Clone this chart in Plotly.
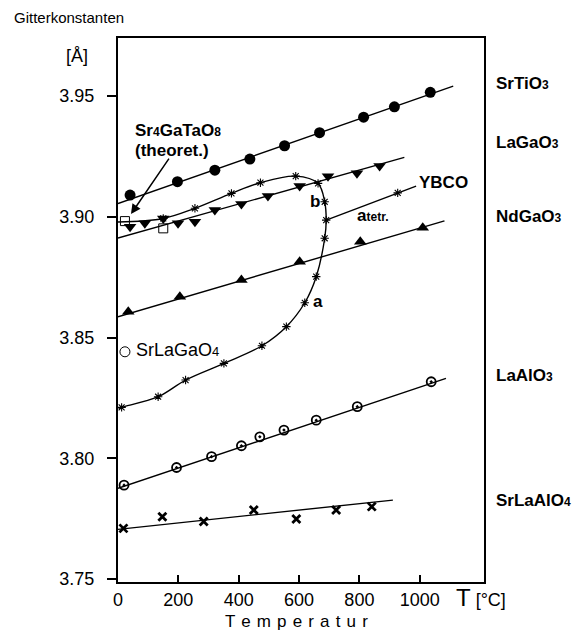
import plotly.graph_objects as go

# ---------------- data ----------------
srtio3_T = [40, 197, 321, 437, 552, 668, 814, 916, 1035]
srtio3_a = [3.9090, 3.9145, 3.9193, 3.9239, 3.9294, 3.9348, 3.9412, 3.9455, 3.9515]
srtio3_fit_T = [0, 1111]
srtio3_fit_a = [3.9055, 3.9541]

lagao3_T = [40, 89, 150, 199, 255, 321, 409, 497, 602, 696, 792, 867]
lagao3_a = [3.8959, 3.8973, 3.8993, 3.8973, 3.8979, 3.9028, 3.9053, 3.9086, 3.9127, 3.9168, 3.9180, 3.9210]
lagao3_fit_T = [0, 949]
lagao3_fit_a = [3.8912, 3.9246]

ndgao3_T = [34, 205, 409, 602, 803, 1010]
ndgao3_a = [3.8607, 3.8669, 3.8738, 3.8814, 3.8897, 3.8954]
ndgao3_fit_T = [0, 1082]
ndgao3_fit_a = [3.8586, 3.8983]

laalo3_T = [20, 194, 310, 409, 470, 550, 657, 793, 1038]
laalo3_a = [3.7889, 3.7962, 3.8007, 3.8052, 3.8089, 3.8117, 3.8158, 3.8214, 3.8317]
laalo3_fit_T = [0, 1087]
laalo3_fit_a = [3.7876, 3.8331]

srlaalo4_T = [18, 147, 284, 450, 591, 723, 841]
srlaalo4_a = [3.7710, 3.7758, 3.7738, 3.7786, 3.7749, 3.7786, 3.7800]
srlaalo4_fit_T = [0, 911]
srlaalo4_fit_a = [3.7706, 3.7827]

ybco_T = [12, 133, 224, 351, 477, 558, 619, 657, 685, 690, 685, 663, 589, 472, 376, 255, 150]
ybco_a = [3.8211, 3.8255, 3.8324, 3.8393, 3.8466, 3.8545, 3.8644, 3.8752, 3.8911, 3.8986,
          3.9062, 3.9138, 3.9168, 3.9141, 3.9097, 3.9035, 3.8993]
ybco_curve_T = [2, 12, 133, 224, 351, 477, 558, 619, 657, 685, 690, 685, 663, 589, 472, 376, 255, 150, 0]
ybco_curve_a = [3.8206, 3.8211, 3.8255, 3.8324, 3.8393, 3.8466, 3.8545, 3.8644, 3.8752, 3.8911, 3.8986,
                3.9062, 3.9138, 3.9168, 3.9141, 3.9097, 3.9035, 3.8993, 3.8978]
ybco_tetr_T = [690, 927, 988]
ybco_tetr_a = [3.8986, 3.9099, 3.9127]

srlagao4_T = [23]
srlagao4_a = [3.8441]
sr4gatao8_T = [23, 150]
sr4gatao8_a = [3.8982, 3.8952]

x_ticks = [0, 200, 400, 600, 800, 1000]
y_ticks = [3.75, 3.80, 3.85, 3.90, 3.95]
y_tick_text = ["3.75", "3.80", "3.85", "3.90", "3.95"]

# ---------------- figure ----------------
FONT = "Liberation Sans, Arial, sans-serif"
LW = 1.4
fig = go.Figure()

def fit(T, a):
    fig.add_trace(go.Scatter(x=T, y=a, mode="lines", line=dict(color="black", width=LW),
                             showlegend=False, hoverinfo="skip"))

def pts(T, a, symbol, size, lw=1.2):
    fig.add_trace(go.Scatter(x=T, y=a, mode="markers", showlegend=False,
                             marker=dict(symbol=symbol, size=size, color="black",
                                         line=dict(color="black", width=lw))))

fit(srtio3_fit_T, srtio3_fit_a)
fit(lagao3_fit_T, lagao3_fit_a)
fit(ndgao3_fit_T, ndgao3_fit_a)
fit(laalo3_fit_T, laalo3_fit_a)
fit(srlaalo4_fit_T, srlaalo4_fit_a)
fig.add_trace(go.Scatter(x=ybco_curve_T, y=ybco_curve_a, mode="lines",
                         line=dict(color="black", width=LW, shape="spline", smoothing=1.0),
                         showlegend=False, hoverinfo="skip"))
fit(ybco_tetr_T, ybco_tetr_a)

pts(srtio3_T, srtio3_a, "circle", 11, 0)
pts(lagao3_T, lagao3_a, "triangle-down", 11, 0)
pts(ndgao3_T, ndgao3_a, "triangle-up", 11, 0)
pts(laalo3_T, laalo3_a, "circle-open-dot", 9, 1.8)
pts(srlaalo4_T, srlaalo4_a, "x-thin-open", 8, 2.8)
pts(ybco_T, ybco_a, "asterisk-open", 7, 1.1)
pts(ybco_tetr_T[1:2], ybco_tetr_a[1:2], "asterisk-open", 7, 1.1)
pts(srlagao4_T, srlagao4_a, "circle-open", 10, 1.0)
pts(sr4gatao8_T, sr4gatao8_a, "square-open", 9, 1.0)

def small(s, px=12):
    return f"<span style='font-size:{px}px'>{s}</span>"

ann = []
# right side labels (paper coordinates)
right_labels = [("SrTiO" + small("3"), 0.917), ("LaGaO" + small("3"), 0.807),
                ("NdGaO" + small("3"), 0.671), ("LaAlO" + small("3"), 0.3805),
                ("SrLaAlO" + small("4"), 0.1507)]
for txt, yy in right_labels:
    ann.append(dict(x=1.027, y=yy, xref="paper", yref="paper", text=f"<b>{txt}</b>",
                    showarrow=False, xanchor="left", yanchor="middle",
                    font=dict(family=FONT, size=17, color="black")))

# in-plot labels
def dlab(x, y, txt, size=17, xanchor="left", bold=True):
    t = f"<b>{txt}</b>" if bold else txt
    ann.append(dict(x=x, y=y, xref="x", yref="y", text=t, showarrow=False,
                    xanchor=xanchor, yanchor="middle",
                    font=dict(family=FONT, size=size, color="black")))

dlab(50, 3.9359, "Sr" + small("4") + "GaTaO" + small("8"))
dlab(50, 3.9276, "(theoret.)")
dlab(52, 3.8448, "SrLaGaO" + small("4", 13), bold=False, size=18)
dlab(652, 3.9065, "b", xanchor="center")
dlab(663, 3.8648, "a", xanchor="center")
dlab(784, 3.9007, "a" + small("tetr.", 12))
dlab(992, 3.9140, "YBCO")

# arrow to Sr4GaTaO8 point
ann.append(dict(x=43, y=3.9011, xref="x", yref="y", ax=39, ay=-57, axref="pixel", ayref="pixel",
                text="", showarrow=True, arrowhead=2, arrowsize=1.3, arrowwidth=1.5,
                arrowcolor="black"))

# titles
ann.append(dict(x=-0.2896, y=1.0368, xref="paper", yref="paper", text="Gitterkonstanten",
                showarrow=False, xanchor="left", yanchor="middle",
                font=dict(family=FONT, size=15, color="black")))
ann.append(dict(x=-0.112, y=0.966, xref="paper", yref="paper", text="[Å]",
                showarrow=False, xanchor="center", yanchor="middle",
                font=dict(family=FONT, size=18, color="black")))
ann.append(dict(x=0.918, y=-0.0294, xref="paper", yref="paper",
                text="<span style='font-size:24px'>T</span> [°C]",
                showarrow=False, xanchor="left", yanchor="middle",
                font=dict(family=FONT, size=18, color="black")))
gap = " \u200a"
ann.append(dict(x=0.489, y=-0.0735, xref="paper", yref="paper",
                text=gap.join("Temperatur"),
                showarrow=False, xanchor="center", yanchor="middle",
                font=dict(family=FONT, size=17, color="black")))

fig.update_layout(
    width=581, height=630,
    margin=dict(l=118, r=97, t=38, b=48),
    paper_bgcolor="white", plot_bgcolor="white",
    showlegend=False,
    annotations=ann,
    font=dict(family=FONT, size=17, color="black"),
)
fig.update_xaxes(range=[0, 1213], tickvals=x_ticks, ticks="inside", ticklen=7, tickwidth=1.5,
                 tickcolor="black", showline=True, linecolor="black", linewidth=2, mirror=True,
                 showgrid=False, zeroline=False, tickfont=dict(family=FONT, size=18, color="black"))
fig.update_yaxes(range=[3.7488, 3.974], tickvals=y_ticks, ticktext=y_tick_text, ticks="outside",
                 ticklen=9, tickwidth=1.5, tickcolor="black", showline=True, linecolor="black",
                 linewidth=2, mirror=True, showgrid=False, zeroline=False,
                 ticklabelstandoff=9, tickfont=dict(family=FONT, size=18, color="black"))

fig.write_html("out.html")
